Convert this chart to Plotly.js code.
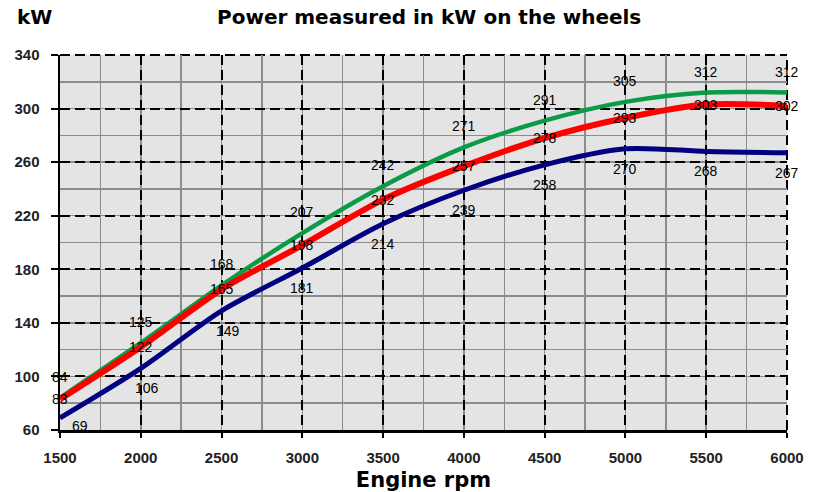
<!DOCTYPE html>
<html>
<head>
<meta charset="utf-8">
<script src="https://cdn.plot.ly/plotly-3.0.1.min.js"></script>
<style>html,body{margin:0;padding:0;background:#fff;}#chart{width:819px;height:492px;}</style>
</head>
<body>
<div id="chart"></div>
<script>
const rpm = [1500, 2000, 2500, 3000, 3500, 4000, 4500, 5000, 5500, 6000];
const greenKW = [84, 125, 168, 207, 242, 271, 291, 305, 312, 312];
const redKW   = [83, 122, 165, 198, 232, 257, 278, 293, 303, 302];
const blueKW  = [69, 106, 149, 181, 214, 239, 258, 270, 268, 267];
const yTicks = [60, 100, 140, 180, 220, 260, 300, 340];
const xTicks = [1500, 2000, 2500, 3000, 3500, 4000, 4500, 5000, 5500, 6000];

const series = [
  {name: 'green', y: greenKW, color: '#0b9a46', width: 4.5, yshift: 21},
  {name: 'red', y: redKW, color: '#ff0000', width: 6, yshift: 0},
  {name: 'blue', y: blueKW, color: '#000080', width: 5, yshift: -20}
];

const traces = [blueKW, greenKW, redKW].map((vals) => {
  const s = series.find(s => s.y === vals);
  return {
    x: rpm, y: vals, type: 'scatter', mode: 'lines', name: s.name,
    line: {color: s.color, width: s.width, shape: 'spline', smoothing: 0.8},
    hoverinfo: 'x+y'
  };
});

const annotations = [];
series.forEach(s => {
  s.y.forEach((v, i) => {
    const a = {
      x: rpm[i], y: v, xref: 'x', yref: 'y', text: String(v), showarrow: false,
      yshift: s.yshift, font: {family: 'Liberation Sans, Arial, sans-serif', size: 14, color: '#000'}
    };
    if (s.name === 'blue' && i === 0) { a.xshift = 20; a.yshift = -8; }
    else if (s.name === 'blue' && i < 3) { a.xshift = 6; }
    annotations.push(a);
  });
});
annotations.push({
  xref: 'paper', yref: 'paper', x: -0.062, y: 1, yshift: 38, xanchor: 'left', yanchor: 'middle',
  text: 'kW', showarrow: false,
  font: {family: 'DejaVu Sans, sans-serif', size: 20, color: '#000', weight: 'bold'}
});

const edgeDash = {color: '#000', width: 2, dash: '10px,5px'};
const shapes = [
  {type: 'line', xref: 'x domain', yref: 'y domain', x0: 0, x1: 1, y0: 1, y1: 1, line: edgeDash, layer: 'below'},
  {type: 'line', xref: 'x domain', yref: 'y domain', x0: 1, x1: 1, y0: 0, y1: 1, line: edgeDash, layer: 'below'}
];

const layout = {
  width: 819, height: 492,
  margin: {l: 60, r: 32, t: 55, b: 62},
  paper_bgcolor: '#ffffff',
  plot_bgcolor: '#e4e4e4',
  showlegend: false,
  title: {
    text: 'Power measured in kW on the wheels',
    x: 0.524, xanchor: 'center', y: 0.965, yanchor: 'middle',
    font: {family: 'DejaVu Sans, sans-serif', size: 20, color: '#000', weight: 'bold'}
  },
  xaxis: {
    range: [1500, 6000],
    tickvals: xTicks, ticktext: xTicks.map(String),
    showgrid: true, gridcolor: '#000', gridwidth: 2, griddash: '10px,5px',
    minor: {dtick: 250, tick0: 1500, showgrid: true, gridcolor: '#8c8c8c', gridwidth: 1.5, griddash: 'solid'},
    showline: true, linecolor: '#000', linewidth: 2.5,
    ticks: 'outside', ticklen: 5, tickwidth: 2, tickcolor: '#000',
    tickfont: {family: 'Liberation Sans, Arial, sans-serif', size: 15, color: '#222', weight: 'bold'},
    ticklabelstandoff: 7,
    zeroline: false,
    title: {text: 'Engine rpm', standoff: 10,
      font: {family: 'DejaVu Sans, sans-serif', size: 21, color: '#000', weight: 'bold'}}
  },
  yaxis: {
    range: [60, 340],
    tickvals: yTicks, ticktext: yTicks.map(String),
    showgrid: true, gridcolor: '#000', gridwidth: 2, griddash: '10px,5px',
    minor: {dtick: 20, tick0: 60, showgrid: true, gridcolor: '#8c8c8c', gridwidth: 1.5, griddash: 'solid'},
    showline: true, linecolor: '#000', linewidth: 2.5,
    ticks: 'outside', ticklen: 7, tickwidth: 2, tickcolor: '#000',
    tickfont: {family: 'Liberation Sans, Arial, sans-serif', size: 15, color: '#222', weight: 'bold'},
    ticklabelstandoff: 8,
    zeroline: false
  },
  shapes: shapes,
  annotations: annotations
};

Plotly.newPlot('chart', traces, layout, {displayModeBar: false, staticPlot: true});
</script>
</body>
</html>
